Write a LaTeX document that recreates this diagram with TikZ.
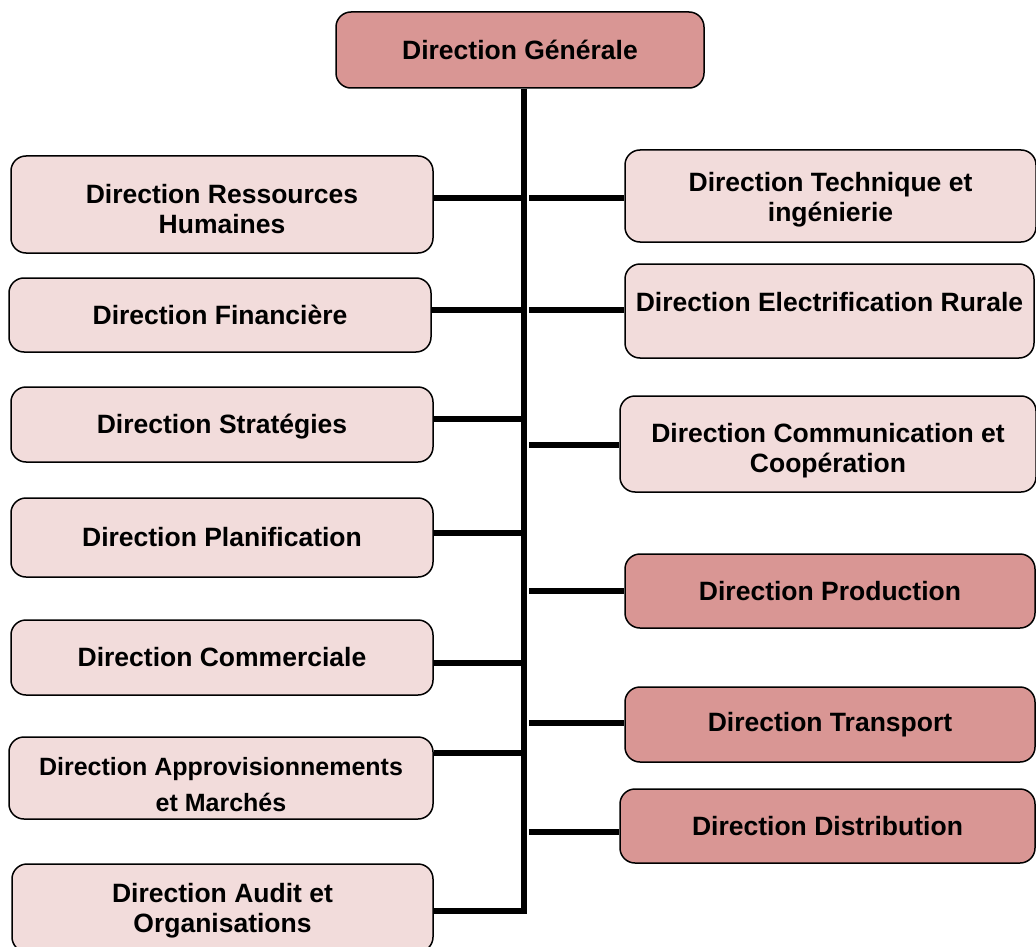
\documentclass[tikz,border=0pt]{standalone}
\usepackage{fontspec}
\setmainfont{Liberation Sans}
\definecolor{deptdark}{HTML}{D99694}
\definecolor{deptlight}{HTML}{F2DCDB}
\tikzset{
  box/.style={draw=black, line width=1.5pt, rounded corners=15pt, inner sep=2pt,
    align=center, font=\fontsize{26.5}{30}\selectfont\bfseries},
  lightbox/.style={box, fill=deptlight},
  darkbox/.style={box, fill=deptdark},
  txt/.style={align=center, font=\fontsize{26.5}{30}\selectfont\bfseries, inner sep=0pt},
  conn/.style={line width=6pt, line join=miter, line cap=butt}
}
\begin{document}
\begin{tikzpicture}[x=1pt, y=-1pt]
\clip (0,0) rectangle (1036,947);
\fill[white] (0,0) rectangle (1036,947);

% top of the hierarchy
\node[darkbox, minimum width=368, minimum height=76] (dg) at (520,50) {Direction Générale};

% left column
\node[lightbox, minimum width=422, minimum height=97] (rh) at (222,204.5) {};
\node[txt] (rht) at ([yshift=-4.5]rh.center) {Direction Ressources\\Humaines};
\node[lightbox, minimum width=422, minimum height=74] (fi) at (220,315) {Direction Financière};
\node[lightbox, minimum width=422, minimum height=75] (st) at (222,424.5) {};
\node[txt] (stt) at ([yshift=-2]st.center) {Direction Stratégies};
\node[lightbox, minimum width=422, minimum height=79] (pl) at (222,537.5) {Direction Planification};
\node[lightbox, minimum width=422, minimum height=75] (co) at (222,657.5) {Direction Commerciale};
\node[lightbox, minimum width=424, minimum height=82] (ap) at (221,778) {};
\node[txt, font=\fontsize{25}{30}\selectfont\bfseries] (apt) at ([yshift=-7]ap.center)
  {Direction Approvisionnements\\[6pt]et Marchés};
\node[lightbox, minimum width=421, minimum height=88] (au) at (222.5,908) {};
\node[txt] (aut) at ([yshift=-3]au.center) {Direction Audit et\\Organisations};

% right column
\node[lightbox, minimum width=411, minimum height=92] (ti) at (830.5,196) {};
\node[txt] (tit) at ([yshift=-3.5]ti.center) {Direction Technique et\\ingénierie};
\node[lightbox, minimum width=409, minimum height=94] (er) at (829.5,311) {};
\node[txt] (ert) at ([yshift=9]er.center) {Direction Electrification Rurale};
\node[lightbox, minimum width=416, minimum height=96] (cc) at (828,444) {};
\node[txt] (cct) at ([yshift=-6.5]cc.center) {Direction Communication et\\Coopération};
\node[darkbox, minimum width=410, minimum height=74] (pr) at (830,591) {Direction Production};
\node[darkbox, minimum width=410, minimum height=75] (tr) at (830,724.5) {Direction Transport};
\node[darkbox, minimum width=415, minimum height=74] (di) at (827.5,826) {Direction Distribution};

% vertical trunk
\coordinate (ttop) at ([xshift=4]dg.south);
\coordinate (tright) at ([xshift=5]ttop);
\coordinate (tbot) at ([yshift=-3]au.east -| ttop);
\draw[conn] (ttop) -- (tbot) -- ([yshift=-3]au.east);

% branches to the left
\draw[conn] ([yshift=6.5]rh.east) -- ([yshift=6.5]rh.east -| ttop);
\draw[conn] ([yshift=5]fi.east) -- ([yshift=5]fi.east -| ttop);
\draw[conn] ([yshift=5.5]st.east) -- ([yshift=5.5]st.east -| ttop);
\draw[conn] ([yshift=4.5]pl.east) -- ([yshift=4.5]pl.east -| ttop);
\draw[conn] ([yshift=-5.5]co.east) -- ([yshift=-5.5]co.east -| ttop);
\draw[conn] ([yshift=25]ap.east) -- ([yshift=25]ap.east -| ttop);

% branches to the right
\draw[conn] ([yshift=-2]ti.west -| tright) -- ([yshift=-2]ti.west);
\draw[conn] ([yshift=1]er.west -| tright) -- ([yshift=1]er.west);
\draw[conn] ([yshift=-1]cc.west -| tright) -- ([yshift=-1]cc.west);
\draw[conn] (pr.west -| tright) -- (pr.west);
\draw[conn] ([yshift=1.5]tr.west -| tright) -- ([yshift=1.5]tr.west);
\draw[conn] ([yshift=-6]di.west -| tright) -- ([yshift=-6]di.west);
\end{tikzpicture}
\end{document}
